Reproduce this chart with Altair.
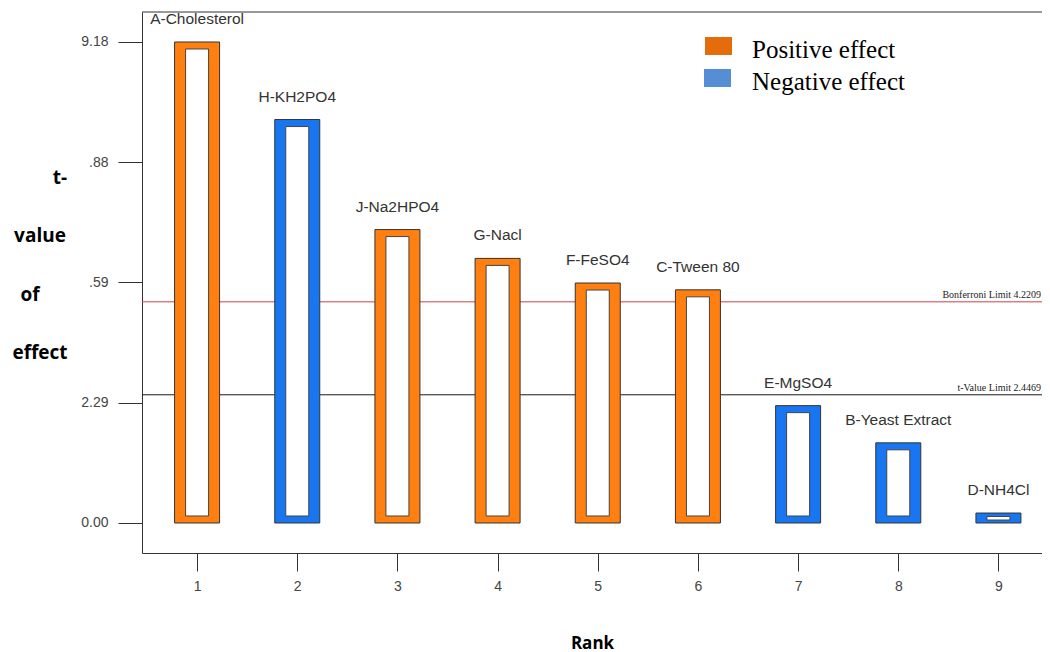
import json
import altair as alt
import pandas as pd

# ---------------- data ----------------
ranks = [1, 2, 3, 4, 5, 6, 7, 8, 9]
factors = ["A-Cholesterol", "H-KH2PO4", "J-Na2HPO4", "G-Nacl", "F-FeSO4",
           "C-Tween 80", "E-MgSO4", "B-Yeast Extract", "D-NH4Cl"]
t_values = [9.18, 7.70, 5.60, 5.05, 4.58, 4.45, 2.24, 1.53, 0.19]
effects = ["Positive", "Negative", "Positive", "Positive", "Positive",
           "Positive", "Negative", "Negative", "Negative"]

y_tick_values = [0.0, 2.295, 4.59, 6.885, 9.18]
y_tick_labels = ["0.00", "2.29", ".59", ".88", "9.18"]
x_tick_values = [1, 2, 3, 4, 5, 6, 7, 8, 9]

limit_names = ["Bonferroni Limit 4.2209", "t-Value Limit 2.4469"]
limit_values = [4.2209, 2.4469]

legend_labels = ["Positive effect", "Negative effect"]
y_title_words = ["t-", "value", "of", "effect"]
x_title = "Rank"

# ---------------- styling ----------------
W, H = 900, 541
X_DOM = [0.5, 9.385]
Y_DOM = [-0.5726, 9.7525]
PX_PER_UNIT = H / (Y_DOM[1] - Y_DOM[0])
INSET = 7 / PX_PER_UNIT

BAR_COLORS = {"Positive": "#FF8010", "Negative": "#1877F0"}
LEGEND_COLORS = ["#E46C0A", "#558ED5"]
LIMIT_COLORS = ["#C8414B", "#1a1a1a"]
SANS = "Liberation Sans, Arial, sans-serif"
SERIF = "Liberation Serif, Times New Roman, serif"
BOLD = "Open Sans, Lato, sans-serif"

df = pd.DataFrame({"rank": ranks, "factor": factors, "t": t_values, "effect": effects})
df["color"] = df["effect"].map(BAR_COLORS)

xs = alt.Scale(domain=X_DOM, nice=False, zero=False)
ys = alt.Scale(domain=Y_DOM, nice=False, zero=False)

label_expr = f"{json.dumps(y_tick_labels)}[indexof({json.dumps(y_tick_values)}, datum.value)]"

x_axis = alt.Axis(values=x_tick_values, tickSize=18, labelPadding=8, labelFont=SANS,
                  labelFontSize=14, labelColor="#444", tickColor="#333", domainColor="#333",
                  grid=False, title=x_title, titleFont=BOLD, titleFontSize=17,
                  titleFontWeight="bold", titleColor="#000", titlePadding=42, format="d")
y_axis = alt.Axis(values=y_tick_values, labelExpr=label_expr, tickSize=24, labelPadding=10,
                  labelFont=SANS, labelFontSize=14, labelColor="#444", tickColor="#333",
                  domainColor="#333", grid=False, title=None)

X = lambda f: alt.X(f, scale=xs, axis=x_axis)
Y = lambda f: alt.Y(f, scale=ys, axis=y_axis)

layers = []

# limit lines
lim_df = pd.DataFrame({"name": limit_names, "v": limit_values, "c": LIMIT_COLORS})
layers.append(
    alt.Chart(lim_df).mark_rule(strokeWidth=1).encode(
        y=Y("v:Q"),
        x=alt.value(0), x2=alt.value(W),
        color=alt.Color("c:N", scale=None),
    )
)
layers.append(
    alt.Chart(lim_df).mark_text(
        align="right", baseline="alphabetic", dy=-4, font=SERIF, fontSize=10, color="#222"
    ).encode(y=Y("v:Q"), x=alt.value(W - 1), text="name:N")
)

# outer coloured bars
base = alt.Chart(df).transform_calculate(
    base="0",
    itop=f"max(datum.t - {INSET}, datum.t * 0.65)",
    ibot=f"min({INSET}, datum.t * 0.3)",
)
layers.append(
    base.mark_bar(size=45, stroke="#333", strokeWidth=1).encode(
        x=X("rank:Q"),
        y=Y("t:Q"),
        y2="base:Q",
        color=alt.Color("color:N", scale=None),
    )
)
# inner white
layers.append(
    base.mark_bar(size=23, color="white", stroke="#444", strokeWidth=1).encode(
        x=X("rank:Q"),
        y=Y("itop:Q"),
        y2="ibot:Q",
    )
)
# bar labels
layers.append(
    alt.Chart(df).mark_text(baseline="middle", align="center", dy=-23, font=SANS,
                            fontSize=15.5, color="#333").encode(
        x=X("rank:Q"),
        y=Y("t:Q"),
        text="factor:N",
    )
)

one = pd.DataFrame({"k": [0]})
# top frame line
layers.append(
    alt.Chart(one).mark_rule(color="#333", strokeWidth=1).encode(
        x=alt.value(0), x2=alt.value(W), y=alt.value(0)
    )
)

# legend
for lab, col, (sx, sy, tx, ty) in zip(legend_labels, LEGEND_COLORS,
                                      [(563, 25, 610, 46), (562, 57, 610, 78)]):
    layers.append(
        alt.Chart(one).mark_rect(color=col).encode(
            x=alt.value(sx), x2=alt.value(sx + 27), y=alt.value(sy), y2=alt.value(sy + 18)
        )
    )
    layers.append(
        alt.Chart(one).mark_text(text=lab, align="left", baseline="alphabetic", font=SERIF,
                                 fontSize=25, color="#000").encode(
            x=alt.value(tx), y=alt.value(ty)
        )
    )

# y title words
for word, (wx, wy) in zip(y_title_words, [(-82, 166), (-102, 224), (-112, 283), (-102, 341)]):
    layers.append(
        alt.Chart(one).mark_text(text=word, align="center", baseline="middle", font=BOLD,
                                 fontSize=19, fontWeight="bold", color="#000").encode(
            x=alt.value(wx), y=alt.value(wy)
        )
    )

chart = alt.layer(*layers).properties(
    width=W, height=H,
    autosize=alt.AutoSizeParams(type="none"),
    padding={"left": 134, "top": 4, "right": 0, "bottom": 99},
).configure_view(strokeWidth=0)

chart.save("out.html", embed_options={"renderer": "svg", "actions": False})
